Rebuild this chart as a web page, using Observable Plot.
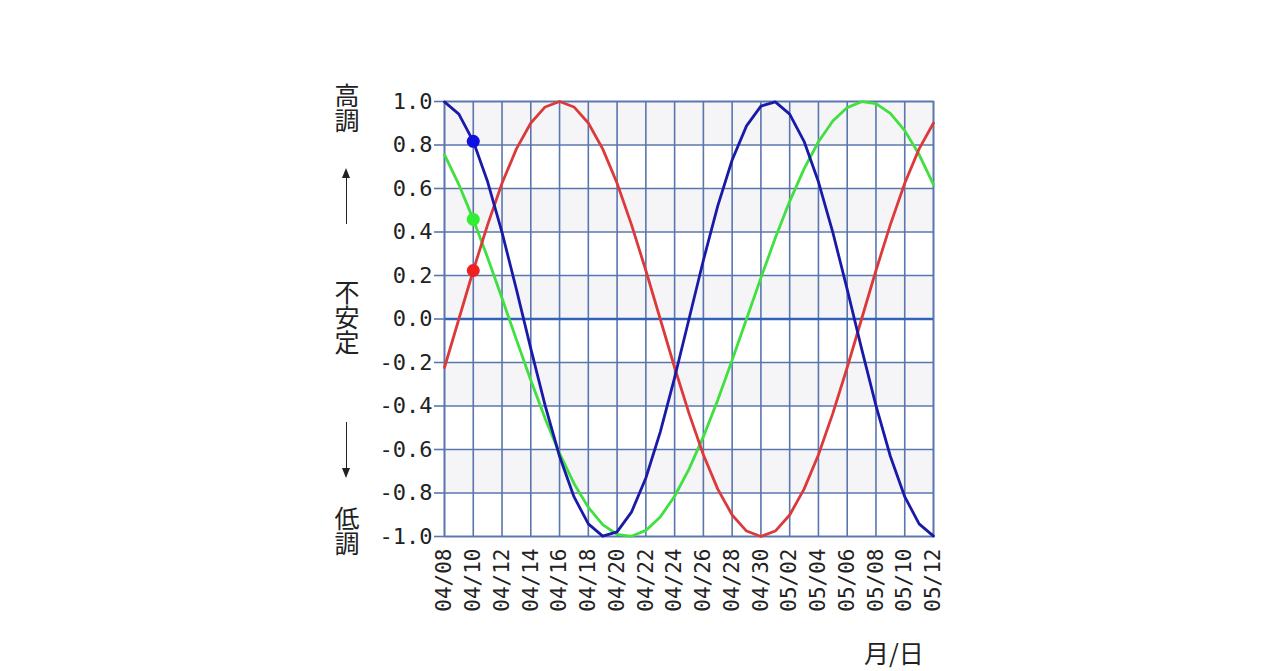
<!DOCTYPE html>
<html>
<head>
<meta charset="utf-8">
<script src="https://cdn.jsdelivr.net/npm/d3@7"></script>
<script src="https://cdn.jsdelivr.net/npm/@observablehq/plot@0.6"></script>
<style>
  html, body { margin: 0; padding: 0; background: #ffffff; }
  #wrap { position: relative; width: 1280px; height: 671px; overflow: hidden; }
  .yl { position: absolute; left: 334px; writing-mode: vertical-rl; text-orientation: upright;
        font-family: "Noto Sans CJK JP", sans-serif; font-size: 25px; line-height: 26px; color: #222; }
  .shaft { position: absolute; left: 346px; width: 0; border-left: 1.8px solid #222; }
  .headUp { position: absolute; left: 342px; width: 0; height: 0;
        border-left: 4.5px solid transparent; border-right: 4.5px solid transparent; border-bottom: 10px solid #222; }
  .headDown { position: absolute; left: 342px; width: 0; height: 0;
        border-left: 4.5px solid transparent; border-right: 4.5px solid transparent; border-top: 10px solid #222; }
  #xlab { position: absolute; left: 864px; top: 634px; font-family: "Noto Sans CJK JP", sans-serif;
        font-size: 25px; color: #222; white-space: nowrap; }
</style>
</head>
<body>
<div id="wrap">
  <div id="chart"></div>
  <div class="yl" style="top:83px">高調</div>
  <div class="headUp" style="top:168px"></div>
  <div class="shaft" style="top:176px;height:48px"></div>
  <div class="yl" style="top:280px">不安定</div>
  <div class="shaft" style="top:422px;height:48px"></div>
  <div class="headDown" style="top:468px"></div>
  <div class="yl" style="top:506px">低調</div>
  <div id="xlab">月/日</div>
</div>
<script>
// Dates (month/day)
const days = [
  "04/08","04/09","04/10","04/11","04/12","04/13","04/14","04/15","04/16","04/17",
  "04/18","04/19","04/20","04/21","04/22","04/23","04/24","04/25","04/26","04/27",
  "04/28","04/29","04/30","05/01","05/02","05/03","05/04","05/05","05/06","05/07",
  "05/08","05/09","05/10","05/11","05/12"
];
// Blue series
const blueValues = [
  0.998, 0.942, 0.817, 0.631, 0.398, 0.136, -0.136, -0.398, -0.631, -0.817,
  -0.942, -0.998, -0.979, -0.888, -0.731, -0.520, -0.270, 0.000, 0.270, 0.520,
  0.731, 0.888, 0.979, 0.998, 0.942, 0.817, 0.631, 0.398, 0.136, -0.136,
  -0.398, -0.631, -0.817, -0.942, -0.998
];
// Red series
const redValues = [
  -0.223, 0.000, 0.223, 0.434, 0.624, 0.782, 0.901, 0.975, 1.000, 0.975,
  0.901, 0.782, 0.624, 0.434, 0.223, 0.000, -0.223, -0.434, -0.624, -0.782,
  -0.901, -0.975, -1.000, -0.975, -0.901, -0.782, -0.624, -0.434, -0.223, 0.000,
  0.223, 0.434, 0.624, 0.782, 0.901
];
// Green series
const greenValues = [
  0.756, 0.618, 0.458, 0.282, 0.095, -0.095, -0.282, -0.458, -0.618, -0.756,
  -0.866, -0.945, -0.990, -0.999, -0.972, -0.910, -0.815, -0.690, -0.541, -0.372,
  -0.189, 0.000, 0.189, 0.372, 0.541, 0.690, 0.815, 0.910, 0.972, 0.999,
  0.990, 0.945, 0.866, 0.756, 0.618
];
const seriesNames = ["S-green", "S-red", "S-blue"];
const seriesColors = ["#3fe03f", "#dc3a3a", "#1a1aa8"];
const dotColors = ["#30ee30", "#f02020", "#1010e0"];
const yTicks = [-1.0, -0.8, -0.6, -0.4, -0.2, 0.0, 0.2, 0.4, 0.6, 0.8, 1.0];
const xTickLabels = ["04/08","04/10","04/12","04/14","04/16","04/18","04/20","04/22","04/24",
  "04/26","04/28","04/30","05/02","05/04","05/06","05/08","05/10","05/12"];
const today = "04/10";
const year = 2024;

const toDate = s => { const [m, d] = s.split("/").map(Number); return new Date(Date.UTC(year, m - 1, d)); };
const valuesBySeries = { "S-green": greenValues, "S-red": redValues, "S-blue": blueValues };
const rows = seriesNames.flatMap(s => days.map((d, i) => ({ series: s, day: d, date: toDate(d), v: valuesBySeries[s][i] })));
const todayRows = rows.filter(d => d.day === today).map(d => ({ ...d, dotFill: dotColors[seriesNames.indexOf(d.series)] }));
const bands = yTicks.slice(0, -1).map((y, i) => ({ y1: y, y2: yTicks[i + 1], shade: i % 2 === 1 }));
const xTicks = xTickLabels.map(toDate);

const gridColor = "#5a76ae";

const chart = Plot.plot({
  width: 1280,
  height: 671,
  marginLeft: 444,
  marginRight: 347,
  marginTop: 101,
  marginBottom: 135,
  style: { background: "#ffffff", fontFamily: "DejaVu Sans Mono, monospace", color: "#222" },
  x: { type: "utc", domain: [toDate(days[0]), toDate(days[days.length - 1])] },
  y: { domain: [-1, 1] },
  color: { domain: seriesNames, range: seriesColors },
  marks: [
    Plot.rect(bands.filter(b => b.shade), { y1: "y1", y2: "y2", fill: "#f5f5f7" }),
    Plot.gridX(xTicks, { stroke: gridColor, strokeOpacity: 1, strokeWidth: 1.6 }),
    Plot.gridY(yTicks, { stroke: gridColor, strokeOpacity: 1, strokeWidth: 1.6 }),
    Plot.ruleY([0], { stroke: "#3363b8", strokeWidth: 2.6 }),
    Plot.frame({ stroke: gridColor, strokeWidth: 1.6 }),
    Plot.axisY(yTicks, {
      tickFormat: d => d.toFixed(1), tickSize: 10, tickPadding: 2,
      stroke: gridColor, strokeWidth: 1.6, fill: "#222", fontSize: 22, label: null
    }),
    Plot.axisX(xTicks, {
      tickFormat: d3.utcFormat("%m/%d"),
      tickRotate: -90, tickSize: 0, tickPadding: 12, fill: "#222", fontSize: 21, label: null
    }),
    Plot.line(rows, { x: "date", y: "v", stroke: "series", z: "series", strokeWidth: 2.8 }),
    Plot.dot(todayRows, { x: "date", y: "v", fill: d => d.dotFill, r: 6.5 })
  ]
});
document.getElementById("chart").appendChild(chart);
</script>
</body>
</html>
